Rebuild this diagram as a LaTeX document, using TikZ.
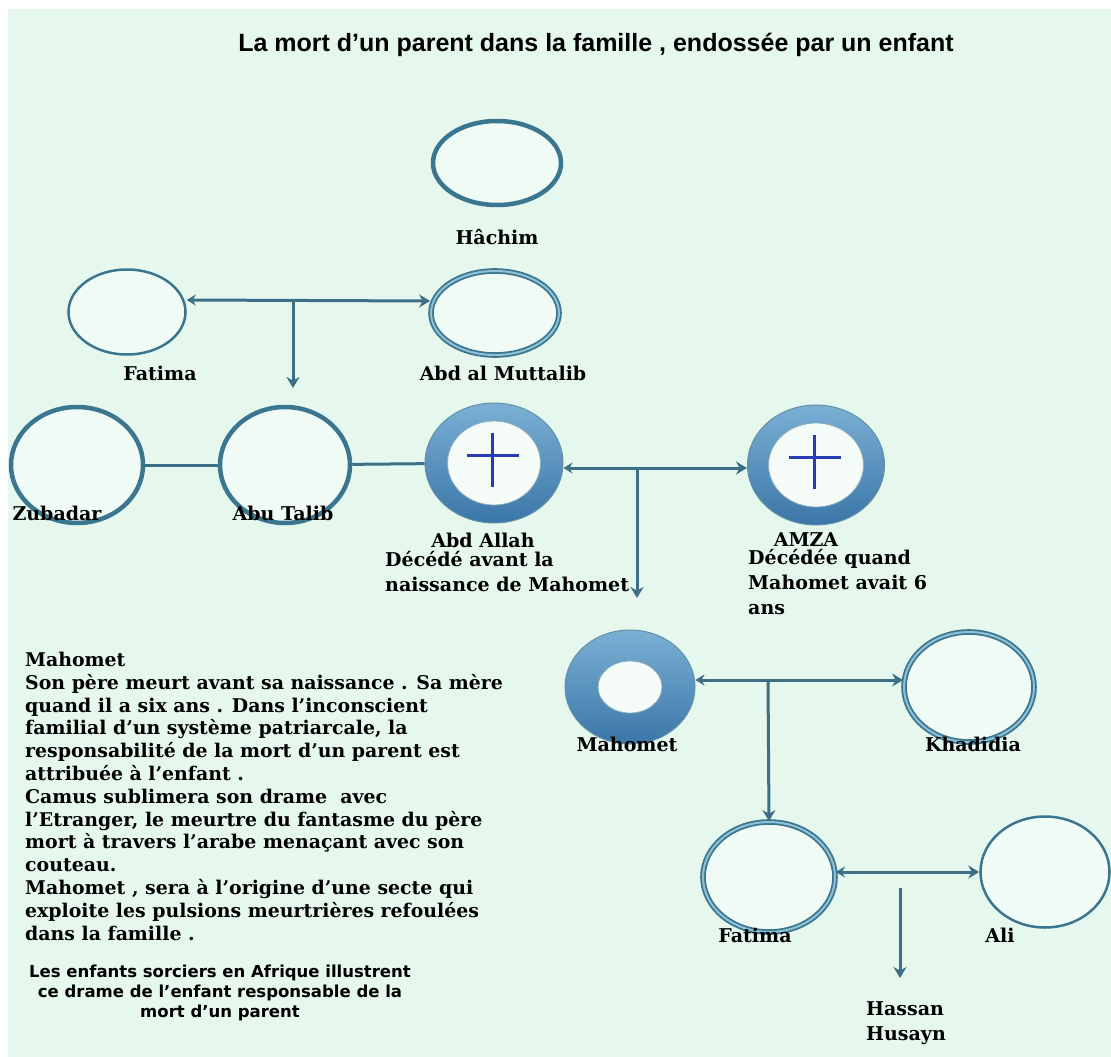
\documentclass[tikz,border=0pt]{standalone}
\usepackage{fontspec}
\setmainfont{DejaVu Serif}
\newfontfamily\titlefont{Liberation Sans}
\newfontfamily\notefont{DejaVu Sans}
\usetikzlibrary{shapes.geometric,arrows.meta}
\definecolor{bgmint}{HTML}{E6F8EE}
\definecolor{ringline}{HTML}{3B7690}
\definecolor{ringlight}{HTML}{8EC0D6}
\definecolor{ringtop}{HTML}{7BB0D4}
\definecolor{ringbot}{HTML}{3A76A8}
\definecolor{linkcol}{HTML}{3D6F86}
\definecolor{crosscol}{HTML}{2A3CB5}

\begin{document}
\begin{tikzpicture}
[x=1pt,y=-1pt,
  personDecorate/.style={shape=ellipse,inner sep=0pt,draw=ringline,line width=4.5pt,fill=white!45!bgmint},
  thinDecorate/.style={personDecorate,line width=2.5pt},
  doubleDecorate/.style={personDecorate,line width=1.8pt,double=ringlight,double distance=2pt},
  ringDecorate/.style={shape=ellipse,inner sep=0pt,draw=ringline!80,line width=1pt,top color=ringtop,bottom color=ringbot},
  holeDecorate/.style={shape=ellipse,inner sep=0pt,draw=ringline!60,line width=0.8pt,fill=white!60!bgmint},
  crossDecorate/.style={crosscol,line width=3pt},
  lineDecorate/.style={linkcol,line width=3pt},
  arrowDecorate/.style={lineDecorate,-{Stealth[length=11pt,width=13pt]}},
  twoDecorate/.style={lineDecorate,{Stealth[length=9pt,width=11pt]}-{Stealth[length=11pt,width=13pt]}},
  nameDecorate/.style={font=\bfseries\fontsize{19}{25}\selectfont,inner sep=0pt,align=left}]
%% background
\fill[white] (0,0) rectangle (1111,1057);
\fill[bgmint] (8,9) rectangle (1111,1057);
\useasboundingbox (0,0) rectangle (1111,1057);
\node[font=\titlefont\bfseries\fontsize{25}{27}\selectfont] (title) at (596,45)
  {La mort d’un parent dans la famille , endossée par un enfant};
%% persons
\foreach \nodename/\x/\y/\w/\h/\look in {
  hachim/497/163/128/84/personDecorate,
  fatimaA/127/312/117/85/thinDecorate,
  muttalib/495/313/128/84/doubleDecorate,
  zubadar/77/465/132/116/personDecorate,
  abutalib/285/465/130/116/personDecorate,
  khadidia/969/687/130/110/doubleDecorate,
  fatimaB/769/877/132/110/doubleDecorate,
  ali/1045/872/129/111/thinDecorate}
{
  \node[\look,minimum width=\w pt,minimum height=\h pt] (\nodename) at (\x,\y) {};
}
%% rings
\foreach \nodename/\x/\y/\w/\h/\hw/\hh in {
  abdallah/494/463/138/120/93/84,
  amza/816/465/137/120/95/84,
  mahomet/630/687/130/114/64/52}
{
  \node[ringDecorate,minimum width=\w pt,minimum height=\h pt] (\nodename) at (\x,\y) {};
  \node[holeDecorate,minimum width=\hw pt,minimum height=\hh pt] (\nodename hole) at (\nodename) {};
}
\foreach \deadname in {abdallah,amza}
  \draw[crossDecorate,shift={(\deadname)}] (-2,-30) -- (-2,24) (-27,-8) -- (25,-8);
%% names
\foreach \labelname/\x/\y/\txt in {
  hachim/497/237/Hâchim,
  fatimaA/160/373/Fatima,
  muttalib/503/373/Abd al Muttalib,
  zubadar/57/513/Zubadar,
  abutalib/283/513/Abu Talib,
  abdallah/483/540/Abd Allah,
  amza/806/540/AMZA,
  mahomet/627/744/Mahomet,
  khadidia/973/744/Khadidia,
  fatimaB/755/935/Fatima,
  ali/1000/935/Ali}
{
  \node[nameDecorate] (\labelname name) at (\x,\y) {\txt};
}
\node[nameDecorate,anchor=north west] (abdallahnote) at (385,551)
  {Décédé avant la\\naissance de Mahomet};
\node[nameDecorate,anchor=north west] (amzanote) at (748,549)
  {Décédée quand\\Mahomet avait 6\\ans};
\node[nameDecorate,anchor=north west] (sons) at (866,1001)
  {Hassan\\Husayn};
%% story
\node[anchor=north west,inner sep=0pt,align=left,
  font=\bfseries\fontsize{18.9}{22.8}\selectfont] (story) at (25,652)
  {Mahomet\\
   Son père meurt avant sa naissance . Sa mère\\
   quand il a six ans . Dans l’inconscient\\
   familial d’un système patriarcale, la\\
   responsabilité de la mort d’un parent est\\
   attribuée à l’enfant .\\
   Camus sublimera son drame \ avec\\
   l’Etranger, le meurtre du fantasme du père\\
   mort à travers l’arabe menaçant avec son\\
   couteau.\\
   Mahomet , sera à l’origine d’une secte qui\\
   exploite les pulsions meurtrières refoulées\\
   dans la famille .};
\node[inner sep=0pt,align=center,font=\notefont\bfseries\fontsize{16.5}{20}\selectfont]
  (note) at (220,993)
  {Les enfants sorciers en Afrique illustrent\\
   ce drame de l’enfant responsable de la\\
   mort d’un parent};
%% links
\coordinate (fjoin) at (293,300);
\coordinate (fdrop) at (293,388);
\coordinate (ajoin) at (637,468);
\coordinate (adrop) at (637,598);
\coordinate (mjoin) at (768,680);
\coordinate (hjoin) at (900,888);
\coordinate (hdrop) at (900,978);
\draw[twoDecorate] ([yshift=12pt]fatimaA.east) -- ([yshift=12pt]muttalib.west);
\draw[arrowDecorate] (fjoin) -- (fdrop);
\draw[lineDecorate] (zubadar) -- (abutalib);
\draw[lineDecorate] (abutalib) -- (abdallah);
\draw[twoDecorate] ([yshift=-5pt]abdallah.east) -- ([yshift=-3pt]amza.west);
\draw[arrowDecorate] (ajoin) -- (adrop);
\draw[twoDecorate] ([yshift=7pt]mahomet.east) -- ([yshift=7pt]khadidia.west);
\draw[arrowDecorate] (mjoin) -- (fatimaB.north);
\draw[twoDecorate] ([yshift=5pt]fatimaB.east) -- (ali.west);
\draw[arrowDecorate] (hjoin) -- (hdrop);
\end{tikzpicture}
\end{document}
